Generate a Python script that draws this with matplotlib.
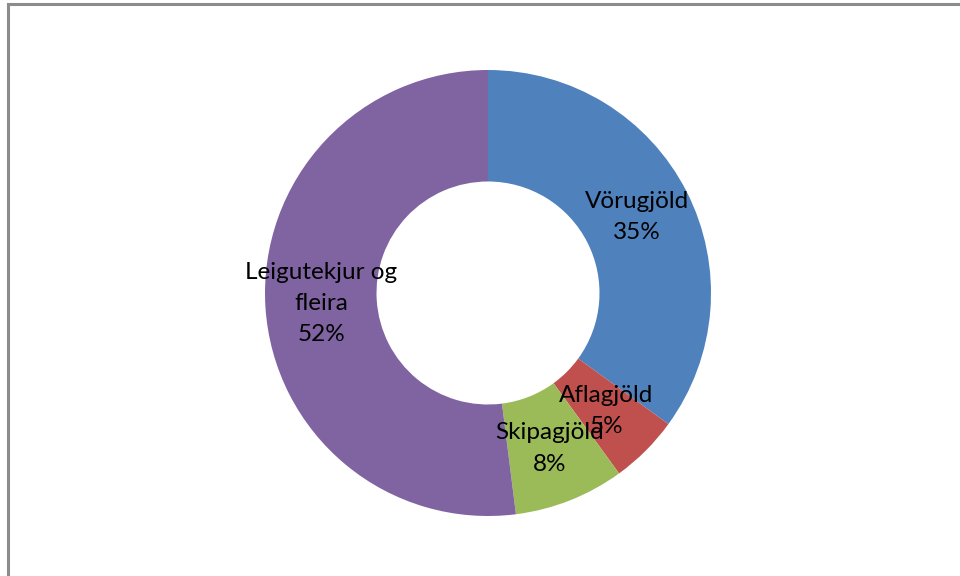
import matplotlib
matplotlib.use("Agg")
import matplotlib.pyplot as plt
from matplotlib.patches import Rectangle
import numpy as np

# data
labels = ["Vörugjöld", "Aflagjöld", "Skipagjöld", "Leigutekjur og\nfleira"]
values = [35, 5, 8, 52]
colors = ["#4F81BD", "#C0504D", "#9BBB59", "#8064A2"]

plt.rcParams['font.family'] = ['Lato', 'DejaVu Sans']

fig = plt.figure(figsize=(9.6, 5.76), dpi=100, facecolor='w')

# outer chart frame (right and bottom sides run off the picture)
fig.patches.append(Rectangle((7.5 / 960, -0.1), 1.2, (576 - 4) / 576 + 0.1,
                             transform=fig.transFigure, fill=False,
                             edgecolor='#8c8c8c', linewidth=2.2))

ax = fig.add_axes([(488 - 223) / 960, (576 - 293 - 223) / 576, 446 / 960, 446 / 576])
wedges, _ = ax.pie(values, colors=colors, startangle=90, counterclock=False,
                   radius=1.0, wedgeprops=dict(width=0.5, linewidth=0))

total = sum(values)
for w, lab, v in zip(wedges, labels, values):
    ang = np.deg2rad((w.theta1 + w.theta2) / 2)
    r = 0.75
    ax.text(r * np.cos(ang), r * np.sin(ang), f"{lab}\n{round(100 * v / total)}%",
            ha='center', va='center', fontsize=17.5, color='black', linespacing=1.6)

ax.set_xlim(-1, 1)
ax.set_ylim(-1, 1)
ax.set_aspect('equal')
ax.axis('off')

fig.savefig("out.png", dpi=100)
